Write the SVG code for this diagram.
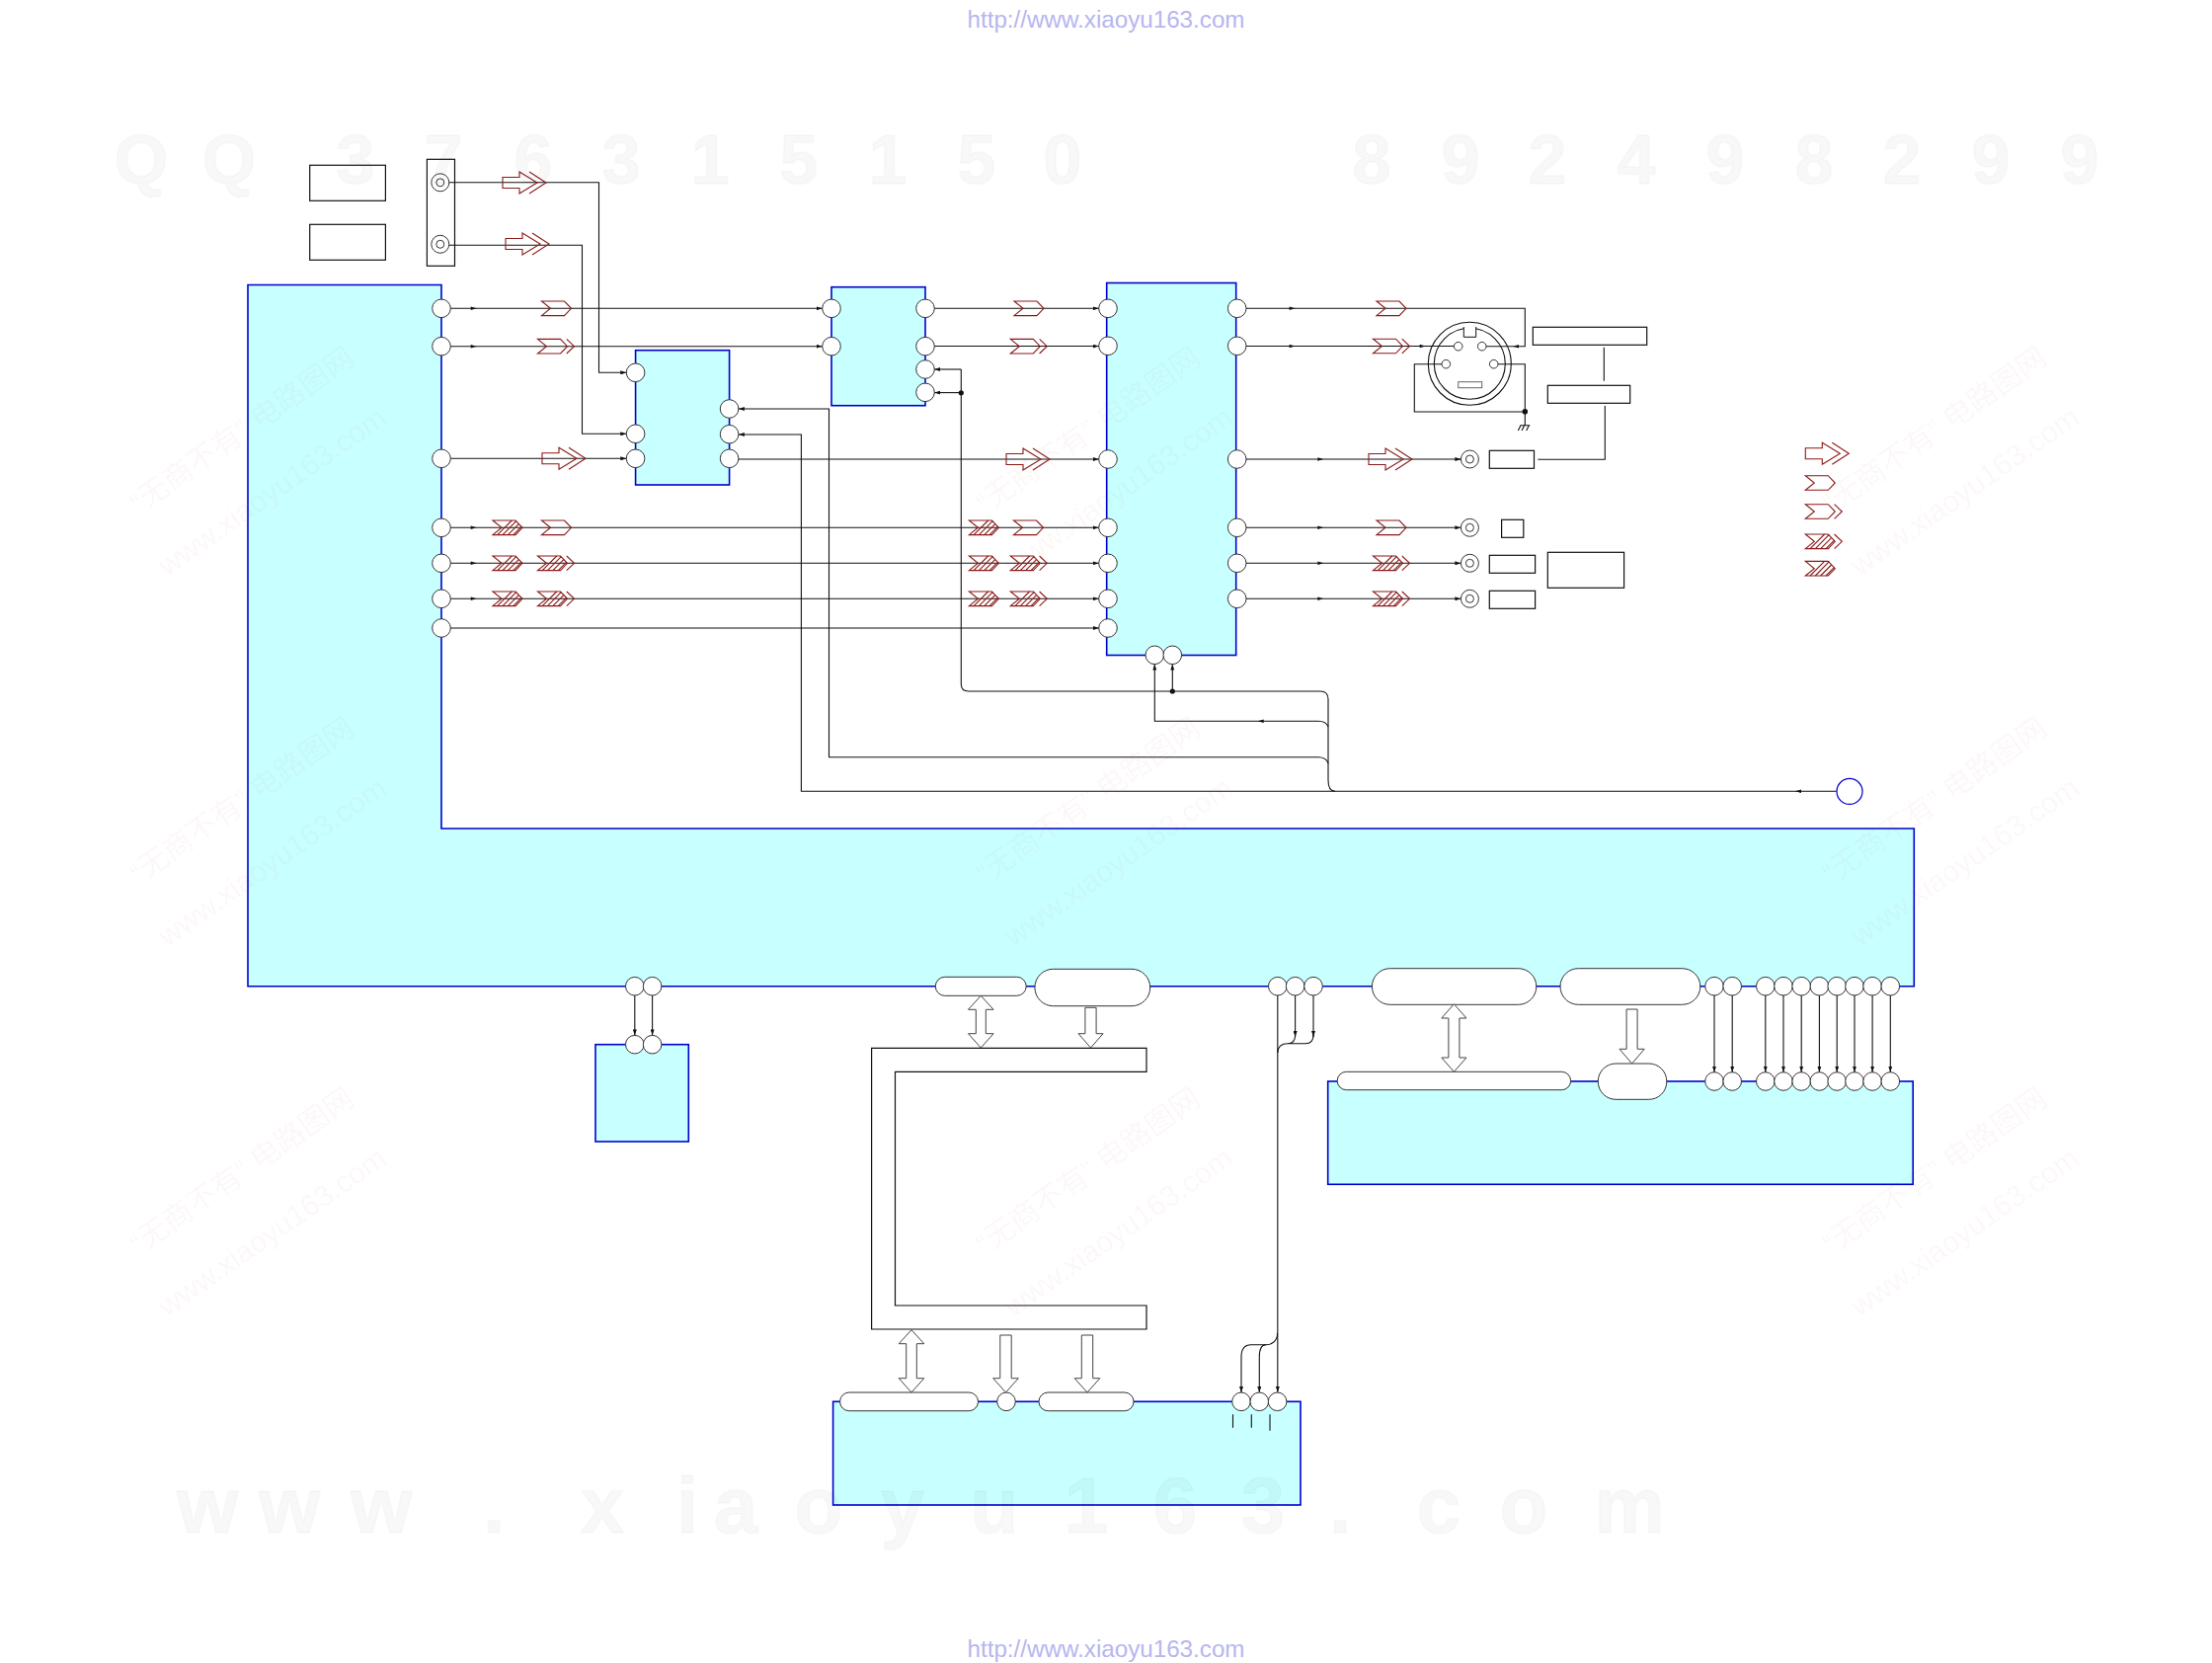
<svg xmlns="http://www.w3.org/2000/svg" width="2240" height="1684" viewBox="0 0 2240 1684">
<style>
.b{fill:#c8ffff;stroke:#0000d0;stroke-width:1.6}
.p{fill:#fff;stroke:#333;stroke-width:1}
.l{fill:none;stroke:#111;stroke-width:1.1}
.r{fill:#fff;stroke:#111;stroke-width:1.2}
.h{fill:#fff;stroke:#444;stroke-width:1}
.g{fill:none;stroke:#8b1a1a;stroke-width:1.1}
.t{font-family:"Liberation Sans",Arial,sans-serif;font-size:24.2px;fill:#b6b6f0;text-anchor:middle}
.q{font-family:"Liberation Sans",Arial,sans-serif;font-weight:bold;fill:#000;fill-opacity:.028;stroke:#000;stroke-opacity:.02;stroke-width:2;text-anchor:middle}
.q2{font-family:"Liberation Sans",Arial,sans-serif;font-weight:bold;fill:#000;fill-opacity:.018;text-anchor:middle}
.w{font-family:"Liberation Sans","Noto Sans CJK SC",sans-serif;fill:#c83020;fill-opacity:.05;font-size:30px}
</style>
<defs>
<marker id="a" viewBox="0 0 6 4" refX="6" refY="2" markerUnits="userSpaceOnUse" markerWidth="6" markerHeight="4" orient="auto"><path d="M0,0L6,2L0,4Z" fill="#111"/></marker>
<path id="m" d="M-3,-1.7L3,0L-3,1.7Z" fill="#111"/>
<path id="c" d="M0,-7.3H23L30,0L23,7.3H0L9,0Z"/>
<path id="e" d="M29.3,-7.3L37,0L29.3,7.3"/>
<path id="s" d="M4.7,7.3L19.3,-7.3M10,7.3L24,-7M15.3,7.3L26.3,-3.7M20.7,7.3L29,-1"/>
<g id="c1" class="g"><use href="#c"/></g>
<g id="c2" class="g"><use href="#c"/><use href="#e"/></g>
<g id="h1" class="g"><use href="#c"/><use href="#s"/></g>
<g id="h2" class="g"><use href="#c"/><use href="#e"/><use href="#s"/></g>
<g id="big" class="g"><path d="M0,-5.5H17V-11L35,0L17,11V5.5H0Z"/><path d="M27,-11L44,0L27,11"/></g>
<g id="jack"><circle r="9" fill="#fff" stroke="#333"/><circle r="4" fill="#fff" stroke="#333"/></g>
<g id="wm"><text class="w" x="0" y="0" transform="rotate(-35)">“无商不有” 电路图网</text><text class="w" x="-13" y="68" transform="rotate(-35)">www.xiaoyu163.com</text></g>
</defs>
<rect width="2240" height="1684" fill="#fff"/>
<text class="t" x="1120" y="28">http://www.xiaoyu163.com</text>
<text class="t" x="1120" y="1678">http://www.xiaoyu163.com</text>

<g id="label-box-1"><rect class="r" x="313.7" y="167.3" width="76.7" height="36"/></g>
<g id="label-box-2"><rect class="r" x="313.7" y="227.3" width="76.7" height="36"/></g>
<g id="input-jacks"><rect class="r" x="432.4" y="161.3" width="28.1" height="108"/><use href="#jack" x="445.8" y="184.8"/><use href="#jack" x="445.8" y="247.3"/></g>

<g id="main-block"><path class="b" d="M251,288.5H447V839H1938.3V998.7H251Z"/>
<circle class="p" r="9.3" cx="447" cy="312.3"/><circle class="p" r="9.3" cx="447" cy="350.7"/><circle class="p" r="9.3" cx="447" cy="464.3"/><circle class="p" r="9.3" cx="447" cy="534.3"/><circle class="p" r="9.3" cx="447" cy="570.3"/><circle class="p" r="9.3" cx="447" cy="606.3"/><circle class="p" r="9.3" cx="447" cy="636"/>
<circle class="p" r="9.3" cx="642.8" cy="998.7"/><circle class="p" r="9.3" cx="660.6" cy="998.7"/>
<rect class="p" x="947.3" y="989.3" width="91.9" height="19" rx="9.5"/>
<rect class="p" x="1047.9" y="981.3" width="116.8" height="37.4" rx="18.7"/>
<circle class="p" r="9.3" cx="1293.8" cy="998.7"/><circle class="p" r="9.3" cx="1311.6" cy="998.7"/><circle class="p" r="9.3" cx="1330" cy="998.7"/>
<rect class="p" x="1389.4" y="980.7" width="166.4" height="36.6" rx="18.3"/>
<rect class="p" x="1580" y="980.7" width="141.8" height="36.6" rx="18.3"/>
<circle class="p" r="9.3" cx="1736" cy="998.7"/><circle class="p" r="9.3" cx="1754.2" cy="998.7"/>
<circle class="p" r="9.3" cx="1787.8" cy="998.7"/><circle class="p" r="9.3" cx="1806" cy="998.7"/><circle class="p" r="9.3" cx="1824.2" cy="998.7"/><circle class="p" r="9.3" cx="1842.4" cy="998.7"/><circle class="p" r="9.3" cx="1860.2" cy="998.7"/><circle class="p" r="9.3" cx="1878" cy="998.7"/><circle class="p" r="9.3" cx="1896.1" cy="998.7"/><circle class="p" r="9.3" cx="1914.3" cy="998.7"/>
</g>

<g id="block-mux"><rect class="b" x="643.6" y="354.7" width="95" height="136.3"/>
<circle class="p" r="9.3" cx="643.6" cy="377.3"/><circle class="p" r="9.3" cx="643.6" cy="439.3"/><circle class="p" r="9.3" cx="643.6" cy="464.3"/>
<circle class="p" r="9.3" cx="738.6" cy="414"/><circle class="p" r="9.3" cx="738.6" cy="439.7"/><circle class="p" r="9.3" cx="738.6" cy="464.3"/></g>

<g id="block-sw"><rect class="b" x="842" y="290.7" width="95" height="120"/>
<circle class="p" r="9.3" cx="842" cy="312.3"/><circle class="p" r="9.3" cx="842" cy="350.7"/>
<circle class="p" r="9.3" cx="937" cy="312.3"/><circle class="p" r="9.3" cx="937" cy="350.7"/><circle class="p" r="9.3" cx="937" cy="374"/><circle class="p" r="9.3" cx="937" cy="397.3"/></g>

<g id="block-out"><rect class="b" x="1120.7" y="286.5" width="131" height="377"/>
<circle class="p" r="9.3" cx="1122" cy="312.3"/><circle class="p" r="9.3" cx="1122" cy="350.3"/><circle class="p" r="9.3" cx="1122" cy="465"/><circle class="p" r="9.3" cx="1122" cy="534.3"/><circle class="p" r="9.3" cx="1122" cy="570.3"/><circle class="p" r="9.3" cx="1122" cy="606.3"/><circle class="p" r="9.3" cx="1122" cy="636"/>
<circle class="p" r="9.3" cx="1252.7" cy="312.3"/><circle class="p" r="9.3" cx="1252.7" cy="350.3"/><circle class="p" r="9.3" cx="1252.7" cy="465"/><circle class="p" r="9.3" cx="1252.7" cy="534.3"/><circle class="p" r="9.3" cx="1252.7" cy="570.3"/><circle class="p" r="9.3" cx="1252.7" cy="606.3"/>
<circle class="p" r="9.3" cx="1169.3" cy="663.3"/><circle class="p" r="9.3" cx="1187.3" cy="663.3"/></g>

<g id="s-video-connector" fill="none" stroke="#111"><circle cx="1488.3" cy="368.3" r="42" stroke-width="1.1"/><circle cx="1488.3" cy="368.3" r="36" stroke-width="1.1"/>
<path d="M1482.3,331V341.3H1494.7V331" fill="#fff" stroke-width="1"/>
<circle cx="1476.7" cy="350.7" r="4.3" stroke="#333"/><circle cx="1500.7" cy="350.7" r="4.3" stroke="#333"/><circle cx="1464.3" cy="368.7" r="4.3" stroke="#333"/><circle cx="1512.7" cy="368.7" r="4.3" stroke="#333"/>
<rect x="1476.7" y="386.7" width="24" height="6" stroke="#666"/></g>

<g id="out-jack-1"><use href="#jack" x="1488.4" y="465"/><rect class="r" x="1508.3" y="456.3" width="45.2" height="18"/></g>
<g id="out-jack-2"><use href="#jack" x="1488.4" y="534.3"/><rect class="r" x="1520.6" y="526.3" width="22.2" height="18"/></g>
<g id="out-jack-3"><use href="#jack" x="1488.4" y="570.3"/><rect class="r" x="1508.3" y="562.3" width="46.3" height="18"/></g>
<g id="out-jack-4"><use href="#jack" x="1488.4" y="606.3"/><rect class="r" x="1508.3" y="598.3" width="46.3" height="18"/></g>
<g id="label-box-3"><rect class="r" x="1567.3" y="559.3" width="77.3" height="36"/></g>
<g id="label-box-4"><rect class="r" x="1552.3" y="331.3" width="115.4" height="18"/></g>
<g id="label-box-5"><rect class="r" x="1567.3" y="390.3" width="83.4" height="18"/></g>

<g id="small-block"><rect class="b" x="603" y="1057.7" width="94.3" height="98.3"/><circle class="p" r="9.3" cx="642.8" cy="1057.7"/><circle class="p" r="9.3" cx="660.6" cy="1057.7"/></g>

<g id="memory-frame"><path class="r" d="M882.6,1061.3H1161V1085.3H906.5V1322H1161V1346H882.6Z"/></g>

<g id="lower-right-block"><rect class="b" x="1344.7" y="1095" width="592.5" height="104.3"/>
<rect class="p" x="1354.2" y="1085.3" width="236.4" height="18.4" rx="9.2"/>
<rect class="p" x="1618.3" y="1077" width="69.5" height="36.3" rx="18"/>
<circle class="p" r="9.3" cx="1736" cy="1095"/><circle class="p" r="9.3" cx="1754.2" cy="1095"/>
<circle class="p" r="9.3" cx="1787.8" cy="1095"/><circle class="p" r="9.3" cx="1806" cy="1095"/><circle class="p" r="9.3" cx="1824.2" cy="1095"/><circle class="p" r="9.3" cx="1842.4" cy="1095"/><circle class="p" r="9.3" cx="1860.2" cy="1095"/><circle class="p" r="9.3" cx="1878" cy="1095"/><circle class="p" r="9.3" cx="1896.1" cy="1095"/><circle class="p" r="9.3" cx="1914.3" cy="1095"/></g>

<g id="lower-middle-block"><rect class="b" x="843.6" y="1419.3" width="473.4" height="104.7"/>
<rect class="p" x="850.6" y="1410" width="139.9" height="18.7" rx="9.3"/>
<circle class="p" r="9.3" cx="1019" cy="1419.3"/>
<rect class="p" x="1052" y="1410" width="96" height="18.7" rx="9.3"/>
<circle class="p" r="9.3" cx="1257" cy="1419.3"/><circle class="p" r="9.3" cx="1275.3" cy="1419.3"/><circle class="p" r="9.3" cx="1293.6" cy="1419.3"/>
<path class="l" d="M1248.5,1432.3V1445.7M1267.3,1432.3V1445.7M1286,1432.3V1448.7"/></g>

<g id="end-terminal"><circle cx="1873" cy="801.4" r="13" fill="#fff" stroke="#0000d0" stroke-width="1.2"/></g>

<g id="bus-arrows">
<path class="h" d="M993.3,1008.3L1006.1,1022.3H998.3V1046.7H1006.1L993.3,1061L980.5,1046.7H988.3V1022.3H980.5Z"/>
<path class="h" d="M1098.9,1020.3H1110.1V1046.7H1117L1104.5,1061L1092,1046.7H1098.9Z"/>
<path class="h" d="M1472.4,1016.7L1485,1031H1477.9V1071H1485L1472.4,1085.3L1459.8,1071H1466.9V1031H1459.8Z"/>
<path class="h" d="M1647.1,1022H1658.1V1062.3H1665.2L1652.6,1077L1640,1062.3H1647.1Z"/>
<path class="h" d="M923,1346.7L935.8,1360.7H928.3V1395.7H935.8L923,1410L910.2,1395.7H917.7V1360.7H910.2Z"/>
<path class="h" d="M1012.8,1352H1024.2V1395.7H1031.3L1018.5,1410L1005.7,1395.7H1012.8Z"/>
<path class="h" d="M1095.3,1352H1106.7V1395.7H1113.8L1101,1410L1088.2,1395.7H1095.3Z"/>
</g>

<g id="connectors">
<path class="l" d="M454.8,184.8H606.5V377.3H634.3" marker-end="url(#a)"/>
<path class="l" d="M454.8,248.3H589.5V439.3H634.3" marker-end="url(#a)"/>
<path class="l" d="M456.3,312.3H832.7" marker-end="url(#a)"/>
<path class="l" d="M456.3,350.7H832.7" marker-end="url(#a)"/>
<path class="l" d="M456.3,464.3H634.3" marker-end="url(#a)"/>
<path class="l" d="M747.9,465H1112.7" marker-end="url(#a)"/>
<path class="l" d="M456.3,534.3H1112.7" marker-end="url(#a)"/>
<path class="l" d="M456.3,570.3H1112.7" marker-end="url(#a)"/>
<path class="l" d="M456.3,606.3H1112.7" marker-end="url(#a)"/>
<path class="l" d="M456.3,636H1112.7" marker-end="url(#a)"/>
<path class="l" d="M946.3,312.3H1112.7" marker-end="url(#a)"/>
<path class="l" d="M946.3,350.5H1112.7" marker-end="url(#a)"/>
<path class="l" d="M1262,312.3H1544.3V350.7H1505" />
<path class="l" d="M1262,350.5H1472.3"/>
<path class="l" d="M1262,465H1479.4" marker-end="url(#a)"/>
<path class="l" d="M1262,534.3H1479.4" marker-end="url(#a)"/>
<path class="l" d="M1262,570.3H1479.4" marker-end="url(#a)"/>
<path class="l" d="M1262,606.3H1479.4" marker-end="url(#a)"/>
<path class="l" d="M1460,368.7H1432.3V417H1544.3V368.7H1517M1544.3,417V430.7M1539.3,430.7H1549.3M1540,430.7L1537.3,436M1543.7,430.7L1541,436M1548.3,430.7L1545.7,436"/>
<circle cx="1544.3" cy="416.7" r="2.8" fill="#111"/>
<path class="l" d="M1624.3,351.7V385.7M1625.3,411V465.3H1557.3"/>
<path class="l" d="M973.3,374H946.3" marker-end="url(#a)"/>
<path class="l" d="M973.3,397.6H946.3" marker-end="url(#a)"/>
<circle cx="973.3" cy="397.8" r="2.6" fill="#111"/>
<path class="l" d="M973.3,374V693Q973.3,700 981,700H1337Q1345,700 1345,708V790Q1345,801.3 1352,801.3"/>
<circle cx="1187.3" cy="700" r="2.6" fill="#111"/>
<path class="l" d="M1187.3,700V672.6" marker-end="url(#a)"/>
<path class="l" d="M1345,736Q1343,730.3 1335,730.3H1169.3V672.6" marker-end="url(#a)"/>
<path class="l" d="M1345,773Q1343,766.7 1335,766.7H839.5V414H747.9" marker-end="url(#a)"/>
<path class="l" d="M1859.7,801.3H811.4V440H747.9" marker-end="url(#a)"/>
<path class="l" d="M642.8,1008V1048.4" marker-end="url(#a)"/>
<path class="l" d="M660.6,1008V1048.4" marker-end="url(#a)"/>
<path class="l" d="M1293.8,1008V1410" marker-end="url(#a)"/>
<path class="l" d="M1311.6,1008V1050" marker-end="url(#a)"/>
<path class="l" d="M1330,1008V1050" marker-end="url(#a)"/>
<path class="l" d="M1330,1048C1330,1054 1327,1056.7 1322,1056.7H1304C1298,1056.7 1294,1060 1293.8,1066M1311.6,1048C1311.6,1054 1309,1056.7 1304,1056.7"/>
<path class="l" d="M1293.6,1350C1293.6,1358 1288,1361.7 1282,1361.7H1267C1260,1361.7 1257,1366 1257,1374V1410" marker-end="url(#a)"/>
<path class="l" d="M1282,1361.7C1278,1361.7 1275.3,1366 1275.3,1374V1410" marker-end="url(#a)"/>
<g id="bus-links">
<path class="l" d="M1736,1008V1085.7" marker-end="url(#a)"/><path class="l" d="M1754.2,1008V1085.7" marker-end="url(#a)"/>
<path class="l" d="M1787.8,1008V1085.7" marker-end="url(#a)"/><path class="l" d="M1806,1008V1085.7" marker-end="url(#a)"/><path class="l" d="M1824.2,1008V1085.7" marker-end="url(#a)"/><path class="l" d="M1842.4,1008V1085.7" marker-end="url(#a)"/><path class="l" d="M1860.2,1008V1085.7" marker-end="url(#a)"/><path class="l" d="M1878,1008V1085.7" marker-end="url(#a)"/><path class="l" d="M1896.1,1008V1085.7" marker-end="url(#a)"/><path class="l" d="M1914.3,1008V1085.7" marker-end="url(#a)"/>
</g>
<use href="#m" x="479.7" y="312.3"/><use href="#m" x="479.7" y="350.7"/><use href="#m" x="479.7" y="534.3"/><use href="#m" x="479.7" y="570.3"/><use href="#m" x="479.7" y="606.3"/>
<use href="#m" x="1308.6" y="312.3"/><use href="#m" x="1308.6" y="350.5"/><use href="#m" x="1337.3" y="465"/><use href="#m" x="1337.3" y="534.3"/><use href="#m" x="1337.3" y="570.3"/><use href="#m" x="1337.3" y="606.3"/>
<use href="#m" x="1440.7" y="350.5"/>
<use href="#m" transform="translate(1535,350.7) rotate(180)"/>
<use href="#m" transform="translate(1276.7,730.3) rotate(180)"/>
<use href="#m" transform="translate(1821,801.3) rotate(180)"/>
</g>

<g id="signal-marks">
<use href="#big" x="509" y="185"/><use href="#big" x="512" y="247"/>
<use href="#c1" x="548.5" y="312.3"/><use href="#c2" x="544.5" y="350.7"/><use href="#big" x="549" y="464.3"/>
<use href="#h1" x="499" y="534.3"/><use href="#c1" x="548.5" y="534.3"/>
<use href="#h1" x="499" y="570.3"/><use href="#h2" x="544.5" y="570.3"/>
<use href="#h1" x="499" y="606.3"/><use href="#h2" x="544.5" y="606.3"/>
<use href="#c1" x="1027" y="312.3"/><use href="#c2" x="1023.3" y="350.7"/><use href="#big" x="1019" y="465"/>
<use href="#h1" x="981.4" y="534.3"/><use href="#c1" x="1026.5" y="534.3"/>
<use href="#h1" x="981.4" y="570.3"/><use href="#h2" x="1023.3" y="570.3"/>
<use href="#h1" x="981.4" y="606.3"/><use href="#h2" x="1023.3" y="606.3"/>
<use href="#c1" x="1394" y="312.3"/><use href="#c2" x="1390.5" y="350.5"/><use href="#big" x="1386" y="465"/>
<use href="#c1" x="1394" y="534.3"/><use href="#h2" x="1390.5" y="570.3"/><use href="#h2" x="1390.5" y="606.3"/>
</g>
<g id="legend">
<use href="#big" x="1828.3" y="459.3"/><use href="#c1" x="1828.3" y="489"/><use href="#c2" x="1828.3" y="518"/><use href="#h2" x="1828.3" y="548.3"/><use href="#h1" x="1828.3" y="575.7"/>
</g>

<g id="watermarks">
<text class="q" font-size="70" y="186" x="143 232 360 449 540 629 719 809 899 989 1076">QQ376315150</text>
<text class="q" font-size="70" y="186" x="1389 1479 1567 1657 1747 1837 1926 2016 2106">892498299</text>
<text class="q2" font-size="38" y="857" x="186 229 272 364 410 457 503 550 596 643 689 736 782 829">TEL13942296513</text>
<text class="q2" font-size="38" y="857" x="1093 1140 1190 1236 1282 1330 1380 1430 1480 1530 1614">QQ376315150</text>
<text class="q2" font-size="38" y="857" x="1679 1721 1763 1805 1847 1889 1931 1973 2014">892498299</text>
<text class="q" font-size="80" y="1552" x="210 293 386 500 610 696 745 829 914 1007 1100 1190 1279 1357 1457 1543 1650">www.xiaoyu163.com</text>
<use href="#wm" x="141" y="521"/><use href="#wm" x="998" y="521"/><use href="#wm" x="1855" y="521"/>
<use href="#wm" x="141" y="896"/><use href="#wm" x="998" y="896"/><use href="#wm" x="1855" y="896"/>
<use href="#wm" x="141" y="1271"/><use href="#wm" x="998" y="1271"/><use href="#wm" x="1855" y="1271"/>
</g>
</svg>
